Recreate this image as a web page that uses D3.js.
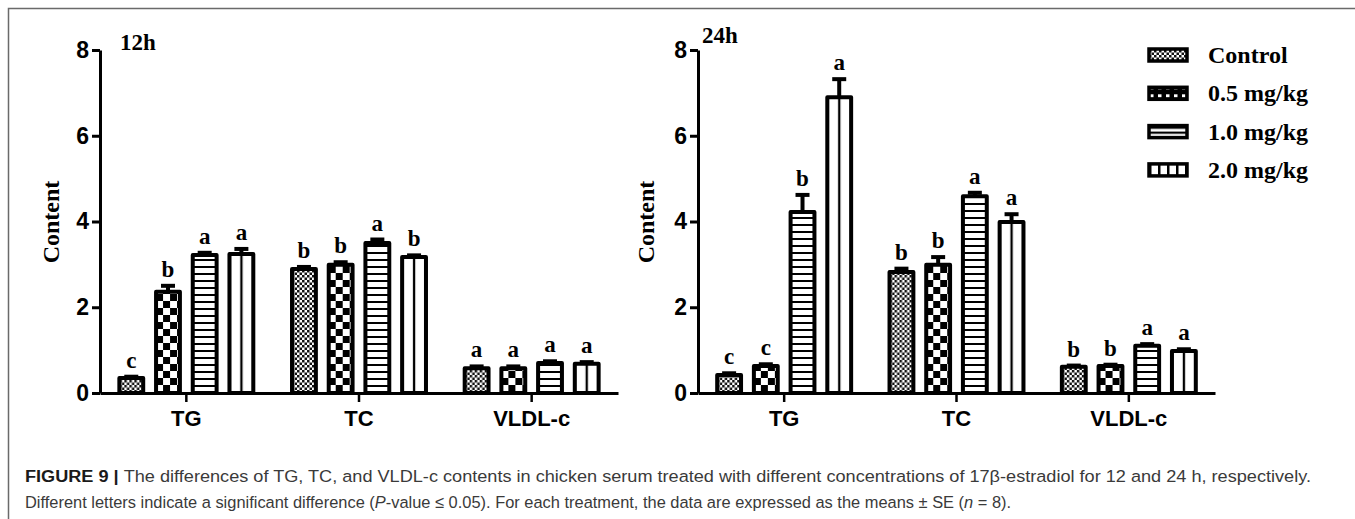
<!DOCTYPE html>
<html>
<head>
<meta charset="utf-8">
<script src="https://cdn.jsdelivr.net/npm/d3@7/dist/d3.min.js"></script>
<style>
  body { margin: 0; background: #fff; }
  svg { display: block; }
</style>
</head>
<body>
<svg id="fig" width="1355" height="519"></svg>
<script>
// ---- data ----
const categories = ["TG", "TC", "VLDL-c"];
const treatments = ["Control", "0.5 mg/kg", "1.0 mg/kg", "2.0 mg/kg"];
const yTicks = [0, 2, 4, 6, 8];

// 12 h: means and SE, one row per category, one column per treatment
const mean12h = [[0.35, 2.36, 3.22, 3.24], [2.89, 2.99, 3.50, 3.17], [0.58, 0.58, 0.70, 0.68]];
const se12h   = [[0.03, 0.14, 0.05, 0.12], [0.05, 0.06, 0.08, 0.04], [0.04, 0.04, 0.04, 0.04]];
const letters12h = [["c", "b", "a", "a"], ["b", "b", "a", "b"], ["a", "a", "a", "a"]];

// 24 h
const mean24h = [[0.42, 0.63, 4.22, 6.90], [2.82, 2.99, 4.59, 3.99], [0.61, 0.63, 1.10, 0.98]];
const se24h   = [[0.04, 0.04, 0.40, 0.42], [0.08, 0.18, 0.08, 0.18], [0.03, 0.03, 0.04, 0.04]];
const letters24h = [["c", "c", "b", "a"], ["b", "b", "a", "a"], ["b", "b", "a", "a"]];

const captionBold = "FIGURE 9 | ";
const captionLine1 = "The differences of TG, TC, and VLDL-c contents in chicken serum treated with different concentrations of 17β-estradiol for 12 and 24 h, respectively.";
const captionLine2 = ["Different letters indicate a significant difference (", "P", "-value ≤ 0.05). For each treatment, the data are expressed as the means ± SE (", "n", " = 8)."];

// ---- drawing ----
const svg = d3.select("#fig");
const defs = svg.append("defs");
const SERIF = "'Liberation Serif', 'Times New Roman', serif";
const SANS = "'Liberation Sans', Arial, Helvetica, sans-serif";

// fill patterns for the four treatments
function pat(id, w, h, units) {
  return defs.append("pattern").attr("id", id)
    .attr("patternUnits", units || "userSpaceOnUse")
    .attr("width", w).attr("height", h);
}
// fine checker (Control)
{
  const p = pat("pCtrl", 5, 5);
  p.append("rect").attr("width", 5).attr("height", 5).attr("fill", "#fff");
  p.append("rect").attr("width", 2.5).attr("height", 2.5).attr("fill", "#111");
  p.append("rect").attr("x", 2.5).attr("y", 2.5).attr("width", 2.5).attr("height", 2.5).attr("fill", "#111");
}
// coarse checker (0.5 mg/kg)
{
  const p = pat("pHalf", 14, 14);
  p.append("rect").attr("width", 14).attr("height", 14).attr("fill", "#fff");
  p.append("rect").attr("width", 7).attr("height", 7).attr("fill", "#000");
  p.append("rect").attr("x", 7).attr("y", 7).attr("width", 7).attr("height", 7).attr("fill", "#000");
}
// horizontal lines (1.0 mg/kg)
{
  const p = pat("pOne", 10, 7);
  p.append("rect").attr("width", 10).attr("height", 7).attr("fill", "#fff");
  p.append("rect").attr("y", 0).attr("width", 10).attr("height", 2).attr("fill", "#000");
}
// vertical divider through the middle of each bar (2.0 mg/kg)
{
  const p = pat("pTwo", 0.5, 1, "objectBoundingBox");
  p.append("rect").attr("width", 100).attr("height", 2000).attr("fill", "#fff");
  p.append("rect").attr("x", 0).attr("width", 1.2).attr("height", 2000).attr("fill", "#000");
  p.append("rect").attr("x", 10.8).attr("width", 1.2).attr("height", 2000).attr("fill", "#000");
}
// legend version of the vertical pattern
{
  const p = pat("pTwoLeg", 9, 20);
  p.append("rect").attr("width", 9).attr("height", 20).attr("fill", "#fff");
  p.append("rect").attr("x", 0).attr("width", 2.5).attr("height", 20).attr("fill", "#000");
}
// legend versions of the other swatches
{
  const p = pat("pHalfLeg", 8, 8);
  p.append("rect").attr("width", 8).attr("height", 8).attr("fill", "#000");
  p.append("rect").attr("x", 1).attr("y", 1).attr("width", 3.5).attr("height", 3).attr("fill", "#fff");
}
{
  const p = pat("pOneLeg", 10, 5);
  p.append("rect").attr("width", 10).attr("height", 5).attr("fill", "#fff");
  p.append("rect").attr("width", 10).attr("height", 2.2).attr("fill", "#000");
}
const barFills = ["url(#pCtrl)", "url(#pHalf)", "url(#pOne)", "url(#pTwo)"];
const legFills = ["url(#pCtrl)", "url(#pHalfLeg)", "url(#pOneLeg)", "url(#pTwoLeg)"];

// figure frame (left and top rules)
svg.append("path").attr("d", "M8.5,519 V8.5 H1355")
  .attr("fill", "none").attr("stroke", "#6a6a6a").attr("stroke-width", 1.5);

const y = d3.scaleLinear().domain([0, 8]).range([393, 50]);

function panel(opts) {
  const { x0range, means, ses, letters, label, labelPos, ylabX } = opts;
  const g = svg.append("g");
  const x0 = d3.scaleBand().domain(categories).range(x0range);
  const x1 = d3.scaleBand().domain(treatments)
    .range([x0.bandwidth() / 2 - 2 * 36.7, x0.bandwidth() / 2 + 2 * 36.7])
    .paddingInner(0.35).paddingOuter(0.175);

  const rows = [];
  categories.forEach((c, i) => treatments.forEach((t, j) => rows.push({
    c, t, j, m: means[i][j], s: ses[i][j], L: letters[i][j]
  })));

  const bars = g.append("g").selectAll("g").data(rows).join("g")
    .attr("transform", d => `translate(${x0(d.c) + x1(d.t)},0)`);
  const bw = x1.bandwidth();

  // error bars (upper only)
  bars.append("line")
    .attr("x1", bw / 2).attr("x2", bw / 2)
    .attr("y1", d => y(d.m)).attr("y2", d => y(d.m + d.s))
    .attr("stroke", "#000").attr("stroke-width", 4);
  bars.append("line")
    .attr("x1", bw / 2 - 7).attr("x2", bw / 2 + 7)
    .attr("y1", d => y(d.m + d.s)).attr("y2", d => y(d.m + d.s))
    .attr("stroke", "#000").attr("stroke-width", 4);

  bars.append("rect")
    .attr("x", 0).attr("width", bw)
    .attr("y", d => y(d.m)).attr("height", d => y(0) - y(d.m))
    .attr("fill", d => barFills[d.j])
    .attr("stroke", "#000").attr("stroke-width", 4)
    .attr("stroke-linejoin", "round");

  bars.append("text")
    .attr("x", bw / 2).attr("y", d => y(d.m + d.s) - 9)
    .attr("text-anchor", "middle")
    .attr("font-family", SERIF).attr("font-weight", "bold").attr("font-size", 23)
    .text(d => d.L);

  // axes
  const xa = g.append("g").attr("transform", `translate(0,${y(0)})`)
    .call(d3.axisBottom(x0).tickSize(9).tickSizeOuter(0).tickPadding(8));
  xa.select(".domain").attr("stroke-width", 3);
  xa.selectAll(".tick line").attr("stroke-width", 2.5);
  xa.selectAll(".tick text").attr("font-family", SANS).attr("font-weight", "bold")
    .attr("font-size", 22).attr("fill", "#000");

  const ya = g.append("g").attr("transform", `translate(${x0range[0]},0)`)
    .call(d3.axisLeft(y).tickValues(yTicks).tickFormat(d3.format("d"))
      .tickSize(8).tickSizeOuter(0).tickPadding(3));
  ya.select(".domain").attr("stroke-width", 3);
  ya.selectAll(".tick line").attr("stroke-width", 3);
  ya.selectAll(".tick text").attr("font-family", SANS).attr("font-weight", "bold")
    .attr("font-size", 23).attr("fill", "#000");

  g.append("text")
    .attr("transform", `translate(${ylabX},222) rotate(-90)`)
    .attr("text-anchor", "middle").attr("dy", "0.35em")
    .attr("font-family", SERIF).attr("font-weight", "bold").attr("font-size", 24)
    .text("Content");

  g.append("text").attr("x", labelPos[0]).attr("y", labelPos[1])
    .attr("font-family", SERIF).attr("font-weight", "bold").attr("font-size", 23)
    .text(label);
}

panel({ x0range: [100, 618], means: mean12h, ses: se12h, letters: letters12h,
        label: "12h", labelPos: [120, 50], ylabX: 51 });
panel({ x0range: [698, 1215], means: mean24h, ses: se24h, letters: letters24h,
        label: "24h", labelPos: [702, 43], ylabX: 646 });

// legend
const leg = svg.append("g").attr("transform", "translate(1149,0)");
const legRows = leg.selectAll("g").data(treatments).join("g")
  .attr("transform", (d, i) => `translate(0,${55 + i * 38.3})`);
legRows.append("rect")
  .attr("x", 0).attr("y", -6).attr("width", 38).attr("height", 12)
  .attr("fill", (d, i) => legFills[i])
  .attr("stroke", "#000").attr("stroke-width", 3.5);
legRows.append("text")
  .attr("x", 59).attr("y", 8)
  .attr("font-family", SERIF).attr("font-weight", "bold").attr("font-size", 24)
  .text(d => d);

// caption: each line is squeezed horizontally to the column width
function captionLine(parts, yPos, width) {
  const t = svg.append("text").attr("y", yPos)
    .attr("font-family", SANS).attr("font-size", 17).attr("fill", "#3a3a3a");
  parts.forEach(p => t.append("tspan")
    .attr("font-weight", p.bold ? "bold" : null)
    .attr("font-style", p.italic ? "italic" : null)
    .attr("fill", p.bold ? "#1a1a1a" : null)
    .text(p.text));
  const natural = t.node().getComputedTextLength();
  t.attr("transform", `translate(25,0) scale(${width / natural},1)`);
}
captionLine([{ text: captionBold, bold: true }, { text: captionLine1 }], 482, 1287);
captionLine(captionLine2.map((s, i) => ({ text: s, italic: i % 2 === 1 })), 508, 987);
</script>
</body>
</html>
